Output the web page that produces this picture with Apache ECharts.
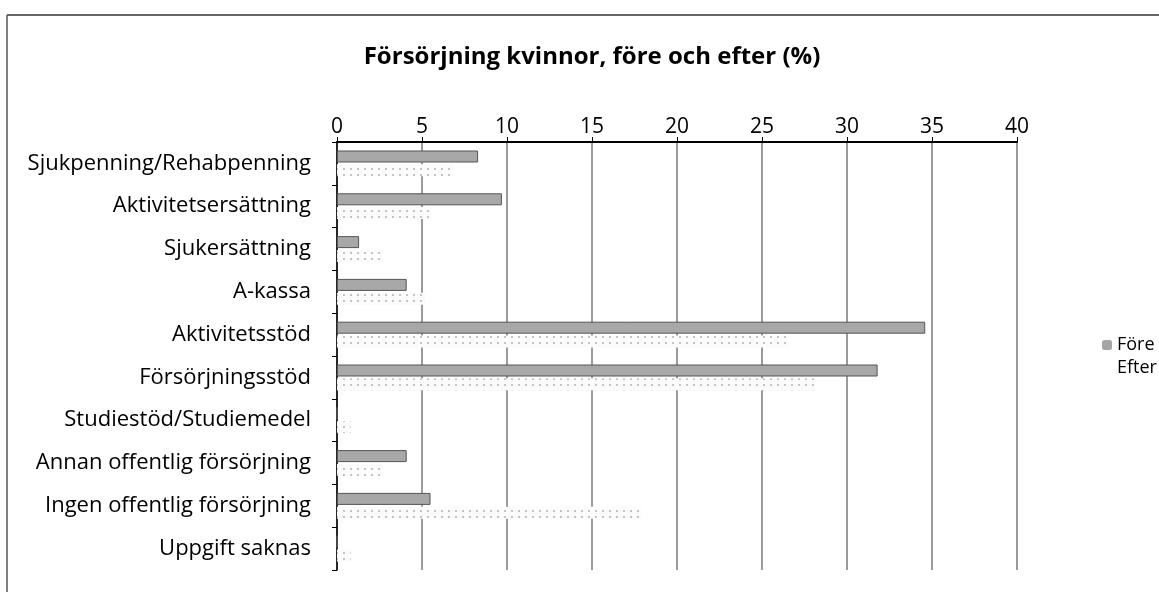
<!DOCTYPE html>
<html>
<head>
<meta charset="utf-8">
<script src="https://cdn.jsdelivr.net/npm/echarts@6/dist/echarts.min.js"></script>
<style>
  html, body { margin: 0; padding: 0; background: #fff; }
  #chart { width: 1159px; height: 592px; }
</style>
</head>
<body>
<div id="chart"></div>
<script>
const categories = [
  'Sjukpenning/Rehabpenning',
  'Aktivitetsersättning',
  'Sjukersättning',
  'A-kassa',
  'Aktivitetsstöd',
  'Försörjningsstöd',
  'Studiestöd/Studiemedel',
  'Annan offentlig försörjning',
  'Ingen offentlig försörjning',
  'Uppgift saknas'
];
const fore = [8.3, 9.7, 1.3, 4.1, 34.6, 31.8, 0, 4.1, 5.5, 0];
const efter = [6.9, 5.6, 2.7, 5.2, 26.6, 28.1, 0.8, 2.7, 17.9, 0.8];
const xTicks = [0, 5, 10, 15, 20, 25, 30, 35, 40];

const font = '"Open Sans", "Liberation Sans", sans-serif';
const chart = echarts.init(document.getElementById('chart'));

chart.setOption({
  animation: false,
  textStyle: { fontFamily: font },
  title: {
    text: 'Försörjning kvinnor, före och efter (%)',
    left: 587,
    textAlign: 'center',
    top: 40,
    textStyle: { fontSize: 24, fontWeight: 'bold', color: '#000', fontFamily: font }
  },
  legend: {
    orient: 'vertical',
    left: 1097,
    top: 331,
    itemWidth: 10,
    itemHeight: 10,
    itemGap: 5,
    textStyle: { fontSize: 18, color: '#000', fontFamily: font },
    data: [
      { name: 'Före', itemStyle: { color: '#a5a5a5', borderWidth: 0, decal: 'none' } },
      { name: 'Efter', itemStyle: { color: '#ffffff', borderWidth: 0, decal: 'none' } }
    ]
  },
  grid: { left: 337, right: 142, top: 142, bottom: 22 },
  xAxis: {
    type: 'value',
    position: 'top',
    min: xTicks[0],
    max: xTicks[xTicks.length - 1],
    interval: 5,
    axisLine: { show: true, lineStyle: { color: '#000', width: 2 } },
    axisTick: { show: true, length: 5, lineStyle: { color: '#000' } },
    axisLabel: { fontSize: 21, color: '#000', margin: 4, fontFamily: font },
    splitLine: { show: true, lineStyle: { color: '#7a7a7a', width: 1.5 } }
  },
  yAxis: {
    type: 'category',
    inverse: true,
    data: categories,
    axisLine: { show: true, lineStyle: { color: '#000', width: 1.5 } },
    axisTick: { show: true, length: 5, lineStyle: { color: '#000' } },
    axisLabel: { fontSize: 22, color: '#000', margin: 26, fontFamily: font }
  },
  series: [
    {
      name: 'Före',
      type: 'bar',
      data: fore,
      barWidth: 12,
      barGap: '15%',
      itemStyle: { color: '#a8a8a8', borderColor: '#555', borderWidth: 1 }
    },
    {
      name: 'Efter',
      type: 'bar',
      data: efter,
      barWidth: 12,
      itemStyle: {
        color: '#fbfbfb',
        decal: {
          symbol: 'rect',
          symbolSize: 1,
          color: '#c4c4c4',
          dashArrayX: [2, 5],
          dashArrayY: [2, 4],
          rotation: 0
        }
      }
    }
  ],
  graphic: [
    { type: 'line', shape: { x1: 7, y1: 15, x2: 1159, y2: 15 }, style: { stroke: '#333', lineWidth: 1.5 } },
    { type: 'line', shape: { x1: 7, y1: 15, x2: 7, y2: 592 }, style: { stroke: '#555', lineWidth: 1.5 } }
  ]
});
</script>
</body>
</html>
